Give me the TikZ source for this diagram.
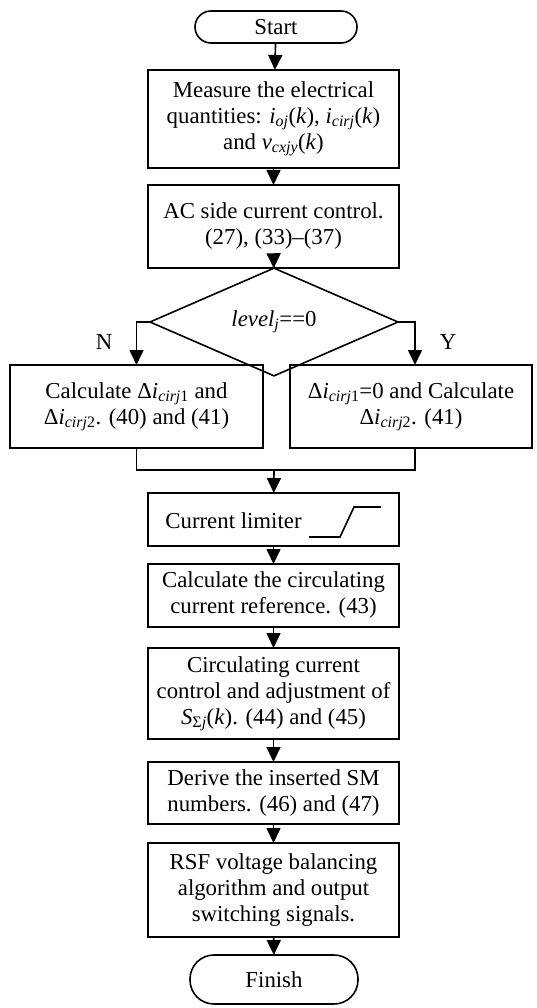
\documentclass[tikz,border=0pt]{standalone}
\usepackage{fontspec}
\setmainfont{Liberation Serif}
\usetikzlibrary{arrows.meta,shapes.geometric}
\newcommand{\iv}[1]{\textit{#1}}
\newcommand{\sbs}[1]{\textsubscript{#1}}
\begin{document}
\begin{tikzpicture}[x=1pt,y=-1pt,
  every node/.style={font=\fontsize{22.8}{26}\selectfont, inner sep=0pt, outer sep=0pt},
  box/.style={draw, line width=1.6pt, rectangle, align=center, minimum width=251pt},
  term/.style={draw, line width=1.6pt, rectangle, rounded corners=#1, align=center},
  flow/.style={line width=1.6pt, -{Triangle[length=15pt,width=14pt]}},
  link/.style={line width=1.6pt}]
\useasboundingbox (0,0) rectangle (536,1008);

% terminals
\node[term=16pt, minimum width=162pt, minimum height=32pt] (start) at (276,27) {Start};
\node[term=24pt, minimum width=168pt, minimum height=49pt] (finish) at (274,979.5) {Finish};

% process steps
\node[box, minimum height=98pt] (meas) at (273.5,119)
  {Measure the electrical\\ quantities: \iv{i}\sbs{\iv{oj}}(\iv{k}), \iv{i}\sbs{\iv{cirj}}(\iv{k})\\ and \iv{v}\sbs{\iv{cxjy}}(\iv{k})};
\node[box, minimum height=83pt] (ac) at (273.5,226.5)
  {AC side current control.\\ (27), (33)–(37)};
\node[draw, diamond, line width=1.6pt, minimum width=248pt, minimum height=66pt] (dec) at (274,322)
  {\iv{level}\sbs{\iv{j}}==0};
\node (nlab) at (104,342) {N};
\node (ylab) at (448,342) {Y};
\node[box, minimum width=253pt, minimum height=83pt] (lb) at (136.5,406.5)
  {Calculate Δ\iv{i}\sbs{\iv{cirj}1} and\\ Δ\iv{i}\sbs{\iv{cirj}2}. (40) and (41)};
\node[box, minimum width=242pt, minimum height=83pt] (rb) at (411,406.5)
  {Δ\iv{i}\sbs{\iv{cirj}1}=0 and Calculate\\ Δ\iv{i}\sbs{\iv{cirj}2}. (41)};
\coordinate (jn) at (274,470);

\node[box, minimum height=53pt] (lim) at (273.5,519.5) {};
\node (limtxt) at (233.5,521) {Current limiter};
\draw[link] (309,537) -- (340,537) -- (354,507) -- (381,507);

\node[box, minimum height=63pt] (calc) at (273.5,595.5)
  {Calculate the circulating\\ current reference. (43)};
\node[box, minimum height=91pt] (ctrl) at (273.5,693.5)
  {Circulating current\\ control and adjustment of\\ \iv{S}\sbs{Σ\iv{j}}(\iv{k}). (44) and (45)};
\node[box, minimum height=62pt] (derive) at (273.5,793)
  {Derive the inserted SM\\ numbers. (46) and (47)};
\node[box, minimum height=94pt] (rsf) at (273.5,890)
  {RSF voltage balancing\\ algorithm and output\\ switching signals.};

% connectors
\draw[flow] (start) -- (meas);
\draw[flow] (meas) -- (ac);
\draw[flow] (ac) -- (dec);
\draw[flow] (dec.west) -| (lb.north);
\draw[flow] (dec.east) -| ([xshift=4pt]rb.north);
\draw[link] (lb.south) |- (jn) -| ([xshift=4pt]rb.south);
\draw[flow] (jn) -- (lim);
\draw[flow] (lim) -- (calc);
\draw[flow] (calc) -- (ctrl);
\draw[flow] (ctrl) -- (derive);
\draw[flow] (derive) -- (rsf);
\draw[flow] (rsf) -- (finish);
\end{tikzpicture}
\end{document}
